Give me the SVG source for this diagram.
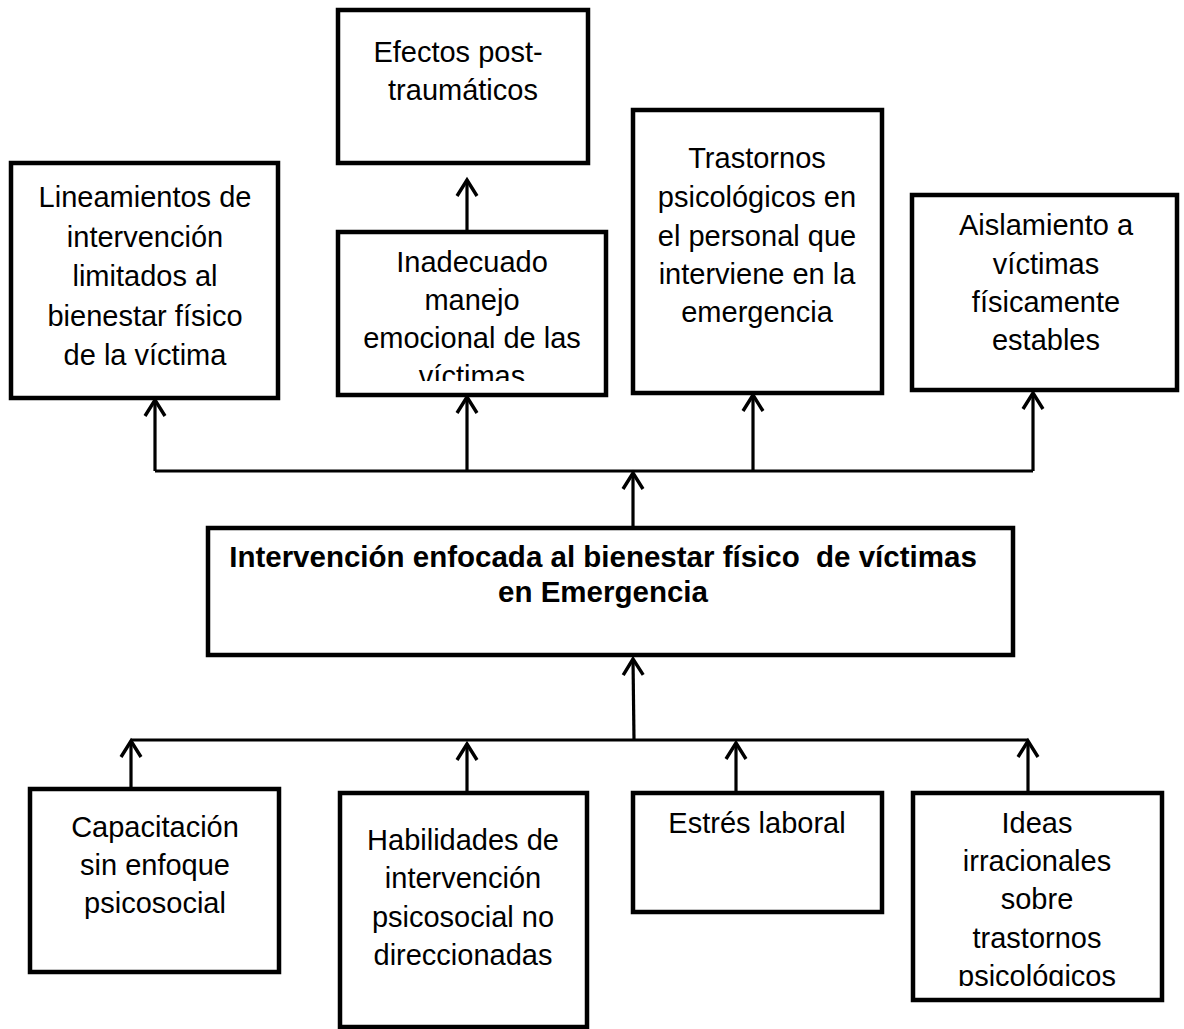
<svg xmlns="http://www.w3.org/2000/svg" width="1184" height="1029" viewBox="0 0 1184 1029">
<style>
.box{fill:#fff;stroke:#000;stroke-width:4.5;}
.t{font-family:"Liberation Sans",Arial,sans-serif;font-size:29px;fill:#000;text-anchor:middle;}
.b{font-family:"Liberation Sans",Arial,sans-serif;font-size:29.5px;font-weight:bold;fill:#000;text-anchor:middle;}
.c{fill:none;stroke:#000;stroke-width:3.2;}
</style>
<defs>
<marker id="ah" markerUnits="userSpaceOnUse" orient="auto" refX="0" refY="0" markerWidth="30" markerHeight="30" viewBox="-20 -15 30 30" overflow="visible">
<path d="M-16,-10 L0,0 L-16,10" fill="none" stroke="#000" stroke-width="3.4" stroke-linejoin="miter"/>
</marker>
<clipPath id="clipInad"><rect x="338" y="232" width="268" height="149"/></clipPath>
<clipPath id="clipIdeas"><rect x="913" y="793" width="249" height="193"/></clipPath>
</defs>

<g id="connectors">
<path class="c" d="M155,471 H1033"/>
<path class="c" d="M155,471 V400" marker-end="url(#ah)"/>
<path class="c" d="M467,471 V397" marker-end="url(#ah)"/>
<path class="c" d="M753,471 V395" marker-end="url(#ah)"/>
<path class="c" d="M1033,471 V393" marker-end="url(#ah)"/>
<path class="c" d="M467,231 V180" marker-end="url(#ah)"/>
<path class="c" d="M633,527 V473" marker-end="url(#ah)"/>
<path class="c" d="M131,740 H1028"/>
<path class="c" d="M634,740 L633,659" marker-end="url(#ah)"/>
<path class="c" d="M131,789 V741" marker-end="url(#ah)"/>
<path class="c" d="M467,793 V744" marker-end="url(#ah)"/>
<path class="c" d="M736,793 V743" marker-end="url(#ah)"/>
<path class="c" d="M1028,793 V741" marker-end="url(#ah)"/>
</g>

<g id="efectos">
<rect class="box" x="338" y="10" width="250" height="153"/>
<text class="t" x="458" y="62">Efectos post-</text>
<text class="t" x="463" y="100">traumáticos</text>
</g>

<g id="lineamientos">
<rect class="box" x="11" y="163" width="267" height="235"/>
<text class="t" x="145" y="207">Lineamientos de</text>
<text class="t" x="145" y="246.5">intervención</text>
<text class="t" x="145" y="286">limitados al</text>
<text class="t" x="145" y="325.5">bienestar físico</text>
<text class="t" x="145" y="365">de la víctima</text>
</g>

<g id="inadecuado">
<rect class="box" x="338" y="232" width="268" height="163"/>
<g clip-path="url(#clipInad)">
<text class="t" x="472" y="272">Inadecuado</text>
<text class="t" x="472" y="310">manejo</text>
<text class="t" x="472" y="348">emocional de las</text>
<text class="t" x="472" y="386">víctimas</text>
</g>
</g>

<g id="trastornos">
<rect class="box" x="633" y="110" width="249" height="283"/>
<text class="t" x="757" y="168">Trastornos</text>
<text class="t" x="757" y="207">psicológicos en</text>
<text class="t" x="757" y="246">el personal que</text>
<text class="t" x="757" y="284">interviene en la</text>
<text class="t" x="757" y="322">emergencia</text>
</g>

<g id="aislamiento">
<rect class="box" x="912" y="195" width="265" height="195"/>
<text class="t" x="1046" y="235">Aislamiento a</text>
<text class="t" x="1046" y="274">víctimas</text>
<text class="t" x="1046" y="312">físicamente</text>
<text class="t" x="1046" y="350">estables</text>
</g>

<g id="central">
<rect class="box" x="208" y="528" width="805" height="127"/>
<text class="b" x="603" y="567" xml:space="preserve">Intervención enfocada al bienestar físico  de víctimas</text>
<text class="b" x="603" y="602">en Emergencia</text>
</g>

<g id="capacitacion">
<rect class="box" x="30" y="789" width="249" height="183"/>
<text class="t" x="155" y="837">Capacitación</text>
<text class="t" x="155" y="875">sin enfoque</text>
<text class="t" x="155" y="913">psicosocial</text>
</g>

<g id="habilidades">
<rect class="box" x="340" y="793" width="247" height="234"/>
<text class="t" x="463" y="850">Habilidades de</text>
<text class="t" x="463" y="888">intervención</text>
<text class="t" x="463" y="927">psicosocial no</text>
<text class="t" x="463" y="965">direccionadas</text>
</g>

<g id="estres">
<rect class="box" x="633" y="793" width="249" height="119"/>
<text class="t" x="757" y="833">Estrés laboral</text>
</g>

<g id="ideas">
<rect class="box" x="913" y="793" width="249" height="207"/>
<g clip-path="url(#clipIdeas)">
<text class="t" x="1037" y="833">Ideas</text>
<text class="t" x="1037" y="871">irracionales</text>
<text class="t" x="1037" y="909">sobre</text>
<text class="t" x="1037" y="948">trastornos</text>
<text class="t" x="1037" y="986">psicológicos</text>
</g>
</g>
</svg>
